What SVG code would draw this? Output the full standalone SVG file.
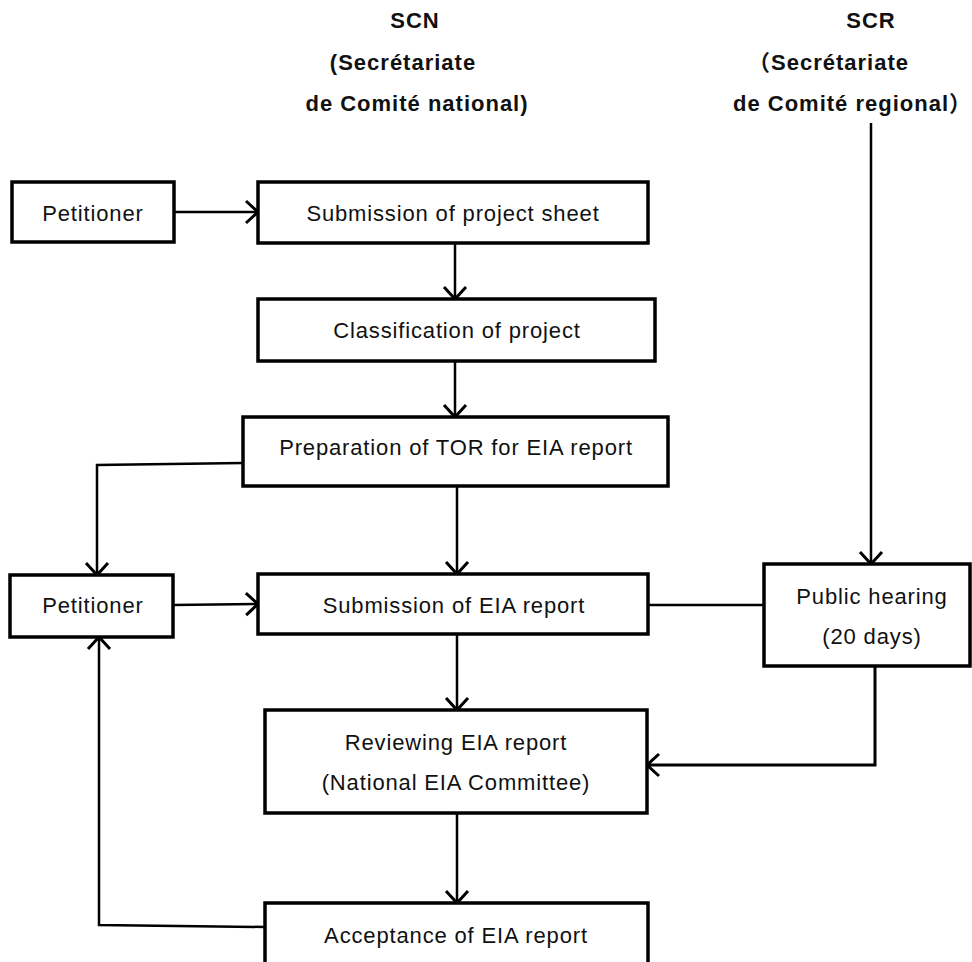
<svg xmlns="http://www.w3.org/2000/svg" width="972" height="962" viewBox="0 0 972 962">
<style>
.box{fill:#fff;stroke:#000;stroke-width:3.5}
.t{font-family:"Liberation Sans",Arial,sans-serif;font-size:22px;fill:#111;text-anchor:middle;letter-spacing:0.85px}
.h{font-family:"Liberation Sans",Arial,"Noto Sans CJK SC",sans-serif;font-size:22px;font-weight:bold;fill:#111;letter-spacing:1px}
.c{fill:none;stroke:#000;stroke-width:2.5}
</style>
<defs>
<marker id="ah" markerUnits="userSpaceOnUse" markerWidth="26" markerHeight="26" refX="15" refY="12" orient="auto" viewBox="0 0 26 24">
<path d="M3,1 L15,12 L3,23" fill="none" stroke="#000" stroke-width="3"/>
</marker>
</defs>
<rect width="972" height="962" fill="#fff"/>
<g id="headers">
<text class="h" x="415" y="28" text-anchor="middle">SCN</text>
<text class="h" x="403" y="70" text-anchor="middle">(Secrétariate</text>
<text class="h" x="417" y="111" text-anchor="middle">de Comité national)</text>
<text class="h" x="871" y="28" text-anchor="middle">SCR</text>
<text class="h" x="748" y="70">（Secrétariate</text>
<text class="h" x="733" y="111">de Comité regional）</text>
</g>
<g id="connectors">
<line class="c" x1="174" y1="212" x2="258" y2="212" marker-end="url(#ah)"/>
<line class="c" x1="455" y1="243" x2="455" y2="299" marker-end="url(#ah)"/>
<line class="c" x1="455" y1="361" x2="455" y2="417" marker-end="url(#ah)"/>
<line class="c" x1="457" y1="486" x2="457" y2="574" marker-end="url(#ah)"/>
<polyline class="c" points="243,463 97,465 97,575" marker-end="url(#ah)"/>
<line class="c" x1="173" y1="605" x2="258" y2="604" marker-end="url(#ah)"/>
<line class="c" x1="648" y1="605" x2="764" y2="605" stroke-width="3"/>
<line class="c" x1="871" y1="123" x2="871" y2="564" marker-end="url(#ah)"/>
<polyline class="c" points="875,666 875,765 647,765" marker-end="url(#ah)" style="stroke-width:3"/>
<line class="c" x1="457" y1="634" x2="457" y2="710" marker-end="url(#ah)"/>
<line class="c" x1="457" y1="813" x2="457" y2="903" marker-end="url(#ah)"/>
<polyline class="c" points="265,927 99,925 99,637" marker-end="url(#ah)"/>
</g>
<g id="petitioner1"><rect class="box" x="12" y="182" width="162" height="60"/><text class="t" x="93" y="221">Petitioner</text></g>
<g id="submission-sheet"><rect class="box" x="258" y="182" width="390" height="61"/><text class="t" x="453" y="221">Submission of project sheet</text></g>
<g id="classification"><rect class="box" x="258" y="299" width="397" height="62"/><text class="t" x="457" y="338">Classification of project</text></g>
<g id="tor"><rect class="box" x="243" y="417" width="425" height="69"/><text class="t" x="456" y="455">Preparation of TOR for EIA report</text></g>
<g id="petitioner2"><rect class="box" x="10" y="575" width="163" height="62"/><text class="t" x="93" y="613">Petitioner</text></g>
<g id="submission-eia"><rect class="box" x="258" y="574" width="390" height="60"/><text class="t" x="454" y="613">Submission of EIA report</text></g>
<g id="public-hearing"><rect class="box" x="764" y="564" width="206" height="102"/><text class="t" x="872" y="604">Public hearing</text><text class="t" x="872" y="644">(20 days)</text></g>
<g id="reviewing"><rect class="box" x="265" y="710" width="382" height="103"/><text class="t" x="456" y="750">Reviewing EIA report</text><text class="t" x="456" y="790">(National EIA Committee)</text></g>
<g id="acceptance"><rect class="box" x="265" y="903" width="383" height="80"/><text class="t" x="456" y="943">Acceptance of EIA report</text></g>
</svg>
